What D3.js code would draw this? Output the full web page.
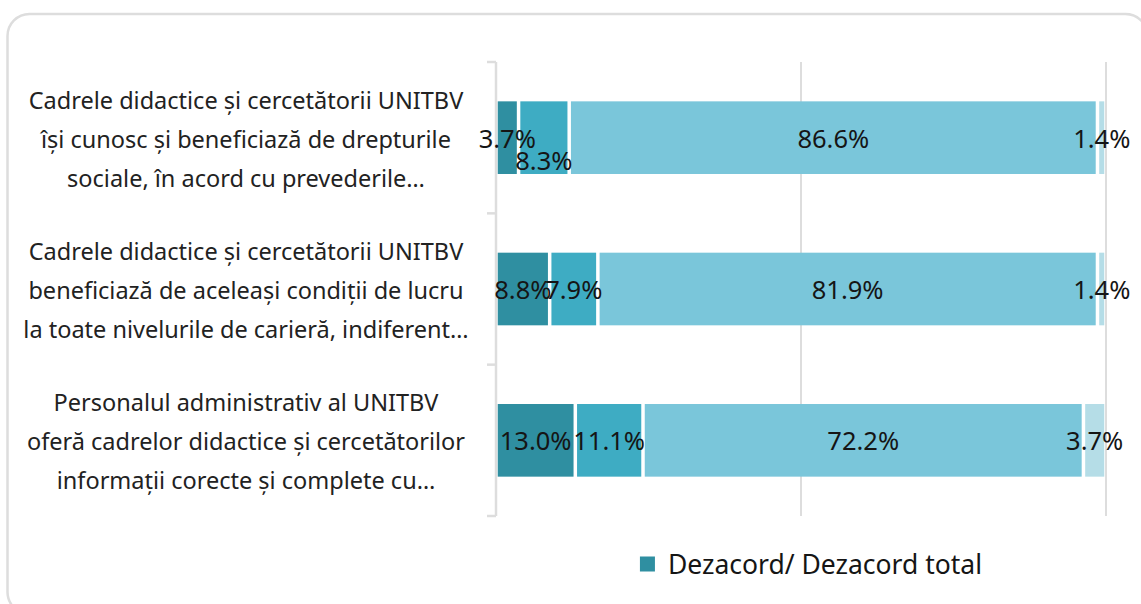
<!DOCTYPE html>
<html>
<head>
<meta charset="utf-8">
<script src="https://cdn.jsdelivr.net/npm/d3@7/dist/d3.min.js"></script>
<style>
  html, body { margin: 0; padding: 0; background: #fff; }
  svg { display: block; font-family: "Noto Sans", "Open Sans", sans-serif; }
</style>
</head>
<body>
<svg id="chart" width="1141" height="604"></svg>
<script>
// ---- data ----
const categories = [
  ["Cadrele didactice și cercetătorii UNITBV", "își cunosc și beneficiază de drepturile", "sociale, în acord cu prevederile…"],
  ["Cadrele didactice și cercetătorii UNITBV", "beneficiază de aceleași condiții de lucru", "la toate nivelurile de carieră, indiferent…"],
  ["Personalul administrativ al UNITBV", "oferă cadrelor didactice și cercetătorilor", "informații corecte și complete cu…"]
];
const seriesNames = ["Dezacord/ Dezacord total", "Neutru", "Acord/ Acord total", "Nu știu"];
const dezacord = [3.7, 8.8, 13.0];
const neutru   = [8.3, 7.9, 11.1];
const acord    = [86.6, 81.9, 72.2];
const nuStiu   = [1.4, 1.4, 3.7];
const xTicks = [0, 50, 100];
const legendShown = [0];

const colors = ["#2f8fa1", "#3eacc3", "#7ac6da", "#b5dde7"];
const series = [dezacord, neutru, acord, nuStiu];

const svg = d3.select("#chart");

// frame
svg.append("rect")
  .attr("x", 7.5).attr("y", 14).attr("width", 1140).attr("height", 600)
  .attr("rx", 22).attr("fill", "#fff").attr("stroke", "#dddddd").attr("stroke-width", 2.5);

const x = d3.scaleLinear().domain([0, 100]).range([496, 1106]);
const y = d3.scaleBand().domain(d3.range(categories.length)).range([62, 516])
  .paddingInner(0.52).paddingOuter(0.26);

// gridlines
svg.append("g").selectAll("line").data(xTicks.slice(1)).join("line")
  .attr("x1", d => x(d)).attr("x2", d => x(d))
  .attr("y1", 62).attr("y2", 516)
  .attr("stroke", "#dddddd").attr("stroke-width", 2);

// y axis
const yAxisLine = svg.append("g");
yAxisLine.append("line").attr("x1", x(0)).attr("x2", x(0)).attr("y1", 62).attr("y2", 516)
  .attr("stroke", "#dddddd").attr("stroke-width", 2.5);
const bounds = d3.range(categories.length + 1).map(i => 62 + i * y.step());
yAxisLine.selectAll("line.tick").data(bounds).join("line").attr("class", "tick")
  .attr("x1", x(0) - 9).attr("x2", x(0)).attr("y1", d => d).attr("y2", d => d)
  .attr("stroke", "#dddddd").attr("stroke-width", 2.5);

// stacked data
const rows = categories.map((c, i) => {
  let acc = 0;
  return series.map((s, k) => {
    const seg = { cat: i, k, v: s[i], x0: acc, x1: acc + s[i] };
    acc += s[i];
    return seg;
  });
});

const inset = 1.75;
const bars = svg.append("g");
rows.forEach(row => {
  bars.selectAll(null).data(row).join("rect")
    .attr("x", d => x(d.x0) + inset)
    .attr("width", d => Math.max(0, x(d.x1) - x(d.x0) - 2 * inset))
    .attr("y", d => y(d.cat))
    .attr("height", y.bandwidth())
    .attr("fill", d => colors[d.k]);
});

// value labels
const labels = svg.append("g").attr("font-size", 25.5).attr("fill", "#151515");
rows.forEach(row => {
  let prevRight = -Infinity;
  row.forEach(d => {
    const cx = (x(d.x0) + x(d.x1)) / 2;
    const cy = y(d.cat) + y.bandwidth() / 2;
    const t = labels.append("text")
      .attr("x", cx).attr("y", cy)
      .attr("text-anchor", "middle").attr("dominant-baseline", "central")
      .text(d.v.toFixed(1) + "%");
    const w = t.node().getComputedTextLength();
    if (prevRight - (cx - w / 2) > 12) {
      t.attr("y", cy + 22);
    }
    prevRight = cx + w / 2;
  });
});

// category labels
const catG = svg.append("g").attr("font-size", 23.5).attr("fill", "#222");
categories.forEach((lines, i) => {
  const cy = y(i) + y.bandwidth() / 2 + 1;
  lines.forEach((ln, j) => {
    catG.append("text")
      .attr("x", 246).attr("y", cy + (j - 1) * 39)
      .attr("text-anchor", "middle").attr("dominant-baseline", "central")
      .text(ln);
  });
});

// legend
const leg = svg.append("g");
const legItems = legendShown.map(k => ({ name: seriesNames[k], color: colors[k] }));
const li = leg.selectAll("g").data(legItems).join("g");
li.append("rect").attr("x", 0).attr("y", -7.5).attr("width", 15).attr("height", 15).attr("fill", d => d.color);
li.append("text").attr("x", 28).attr("y", 0).attr("dominant-baseline", "central")
  .attr("font-size", 26.5).attr("fill", "#151515").text(d => d.name);
const lw = leg.node().getBBox().width;
leg.attr("transform", `translate(${811 - lw / 2}, 564)`);
</script>
</body>
</html>
